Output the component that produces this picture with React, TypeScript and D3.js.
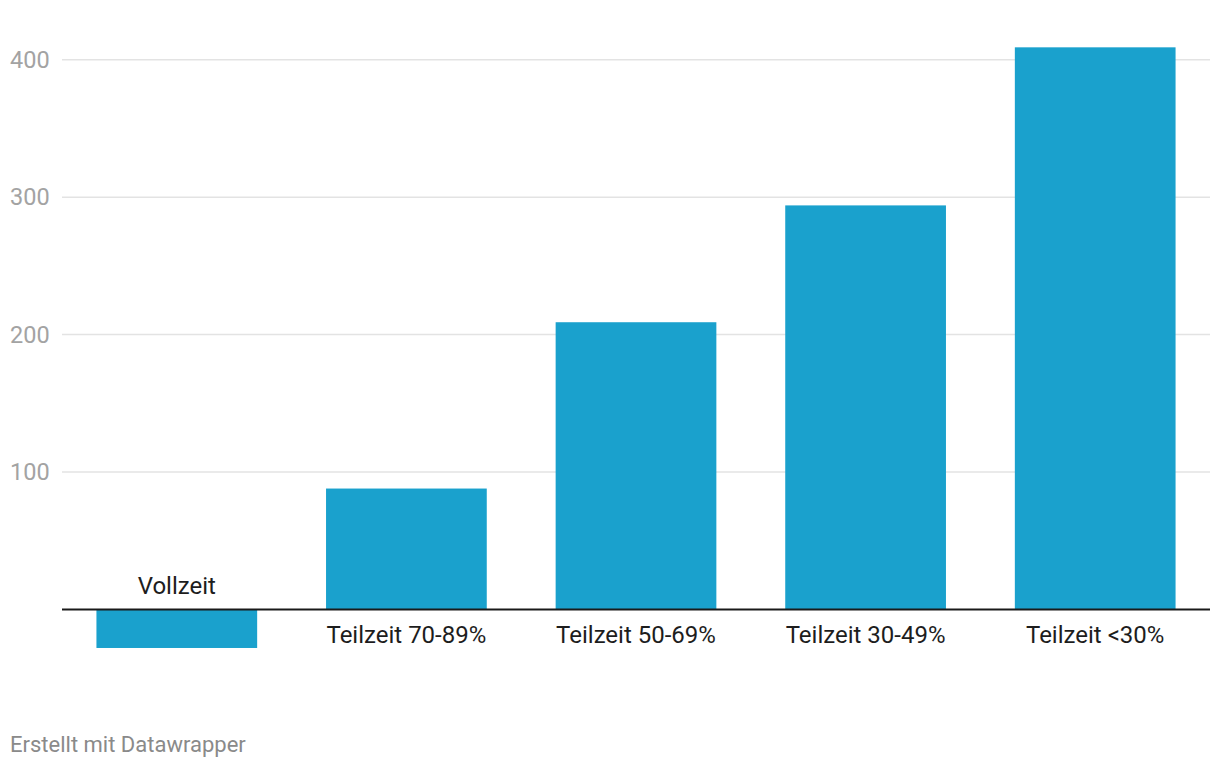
import React from "react";
import * as d3 from "d3";

const categories = ["Vollzeit", "Teilzeit 70-89%", "Teilzeit 50-69%", "Teilzeit 30-49%", "Teilzeit <30%"];
const values = [-28, 88, 209, 294, 409];
const yTicks = [100, 200, 300, 400];

const W = 1220;
const H = 768;

export default function App() {
  const left = 62;
  const right = 1210;
  const x = d3.scaleBand<string>().domain(categories).range([left, right]).paddingInner(0.3).paddingOuter(0.15);
  const y = d3.scaleLinear().domain([0, 400]).range([609.5, 59.7]);
  const font = "Roboto, 'Noto Sans', sans-serif";
  return (
    <svg width={W} height={H} style={{ position: "absolute", left: 0, top: 0 }} fontFamily={font}>
      {yTicks.map((t) => (
        <g key={t}>
          <line x1={left} x2={right} y1={y(t)} y2={y(t)} stroke="#e3e3e3" strokeWidth={1.5} />
          <text x={10} y={y(t)} dy="0.35em" fontSize={23.5} fill="#a3a3a3">{t}</text>
        </g>
      ))}
      {categories.map((c, i) => {
        const v = values[i];
        const y0 = y(Math.max(0, v));
        const h = Math.abs(y(v) - y(0));
        return (
          <rect key={c} x={x(c)} y={y0} width={x.bandwidth()} height={h} fill="#1aa1cd" />
        );
      })}
      <line x1={left} x2={right} y1={y(0)} y2={y(0)} stroke="#1a1a1a" strokeWidth={2} />
      {categories.map((c, i) => {
        const v = values[i];
        const cx = (x(c) as number) + x.bandwidth() / 2;
        const ty = v < 0 ? y(0) - 24 : y(0) + 25;
        return (
          <text key={c} x={cx} y={ty} dy="0.35em" textAnchor="middle" fontSize={24} fill="#1d1d1d">{c}</text>
        );
      })}
      <text x={10} y={744} dy="0.35em" fontSize={22} fill="#8a8a8a">Erstellt mit Datawrapper</text>
    </svg>
  );
}
